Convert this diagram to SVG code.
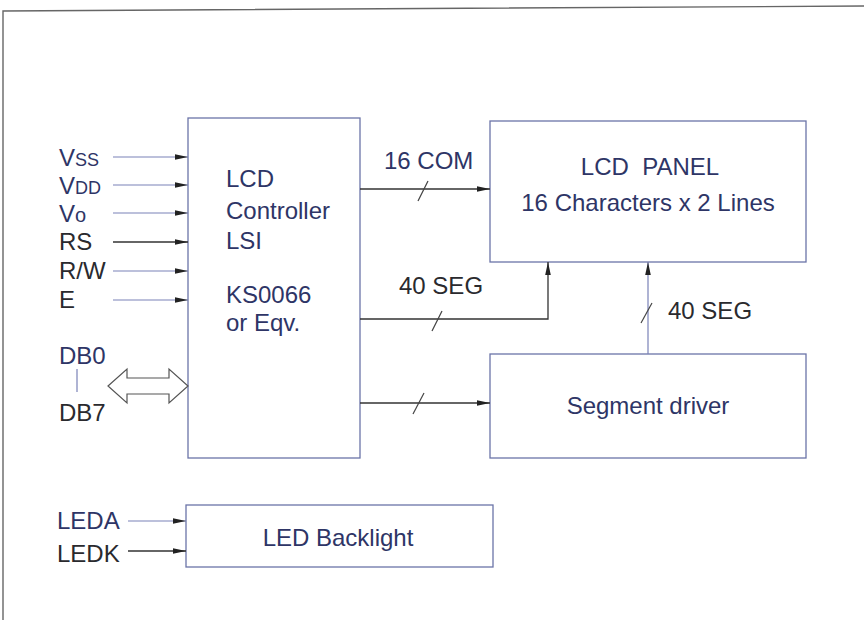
<svg xmlns="http://www.w3.org/2000/svg" width="864" height="621" viewBox="0 0 864 621">
<style>
.box{fill:#fff;stroke:#6b74a8;stroke-width:1.3}
.t{font-family:"Liberation Sans",Arial,sans-serif;font-size:24px;fill:#2e3566}
.d{fill:#2a2a2e}
.ln{stroke:#333;stroke-width:1.3;fill:none}
.lb{stroke:#7a82b8;stroke-width:1.2;fill:none}
.sl{stroke:#444;stroke-width:1.2}
</style>
<defs>
<marker id="ah" markerWidth="14" markerHeight="8" refX="13" refY="4" orient="auto" markerUnits="userSpaceOnUse">
<path d="M0,1.2 L13,4 L0,6.8 z" fill="#222"/>
</marker>
</defs>
<rect x="0" y="0" width="864" height="621" fill="#fff"/>
<path d="M3,620 L3,11 L864,6" fill="none" stroke="#666" stroke-width="1.4"/>

<g id="controller">
<rect class="box" x="188" y="118" width="172" height="340"/>
<text class="t" x="226" y="187">LCD</text>
<text class="t" x="226" y="219">Controller</text>
<text class="t" x="226" y="249">LSI</text>
<text class="t" x="226" y="303">KS0066</text>
<text class="t" x="226" y="331">or Eqv.</text>
</g>
<g id="lcd-panel">
<rect class="box" x="490" y="121" width="316" height="141"/>
<text class="t" x="650" y="175" text-anchor="middle" xml:space="preserve">LCD  PANEL</text>
<text class="t" x="648" y="211" text-anchor="middle">16 Characters x 2 Lines</text>
</g>
<g id="segment-driver">
<rect class="box" x="490" y="354" width="316" height="104"/>
<text class="t" x="648" y="414" text-anchor="middle">Segment driver</text>
</g>
<g id="led-backlight">
<rect class="box" x="186" y="505" width="307" height="62"/>
<text class="t" x="338" y="546" text-anchor="middle">LED Backlight</text>
</g>
<g id="pins">
<text class="t" x="59" y="166">V<tspan font-size="18">SS</tspan></text>
<text class="t" x="59" y="194">V<tspan font-size="18">DD</tspan></text>
<text class="t" x="59" y="222">V<tspan font-size="20">o</tspan></text>
<text class="t d" x="59" y="250">RS</text>
<text class="t d" x="59" y="279">R/W</text>
<text class="t d" x="59" y="308">E</text>
<text class="t" x="59" y="364">DB0</text>
<text class="t d" x="59" y="421">DB7</text>
<text class="t" x="57" y="529">LEDA</text>
<text class="t d" x="57" y="562">LEDK</text>
</g>
<g id="connectors">
<line class="lb" x1="113" y1="157" x2="188" y2="157" marker-end="url(#ah)"/>
<line class="lb" x1="113" y1="185" x2="188" y2="185" marker-end="url(#ah)"/>
<line class="lb" x1="113" y1="213" x2="188" y2="213" marker-end="url(#ah)"/>
<line class="ln" x1="113" y1="242" x2="188" y2="242" marker-end="url(#ah)"/>
<line class="lb" x1="113" y1="271" x2="188" y2="271" marker-end="url(#ah)"/>
<line class="lb" x1="113" y1="300" x2="188" y2="300" marker-end="url(#ah)"/>
<line class="lb" x1="77" y1="369" x2="77" y2="392"/>
<path d="M108,386 L127,369 L127,378 L169,378 L169,369 L188,386 L169,403 L169,394 L127,394 L127,403 Z" fill="#fff" stroke="#555" stroke-width="1.2"/>
<line class="lb" x1="128" y1="521" x2="186" y2="521" marker-end="url(#ah)"/>
<line class="ln" x1="128" y1="551" x2="186" y2="551" marker-end="url(#ah)"/>

<line class="ln" x1="360" y1="189" x2="490" y2="189" marker-end="url(#ah)"/>
<line class="sl" x1="418" y1="201" x2="428" y2="181"/>
<text class="t" x="384" y="169">16 COM</text>

<polyline class="ln" points="360,319 548,319 548,262" marker-end="url(#ah)"/>
<line class="sl" x1="432" y1="331" x2="442" y2="311"/>
<text class="t d" x="399" y="294">40 SEG</text>

<line class="ln" x1="360" y1="403" x2="490" y2="403" marker-end="url(#ah)"/>
<line class="sl" x1="413" y1="414" x2="424" y2="393"/>

<line class="lb" x1="648" y1="354" x2="648" y2="262" marker-end="url(#ah)"/>
<line class="sl" x1="641" y1="323" x2="652" y2="303"/>
<text class="t d" x="668" y="319">40 SEG</text>
</g>
</svg>
